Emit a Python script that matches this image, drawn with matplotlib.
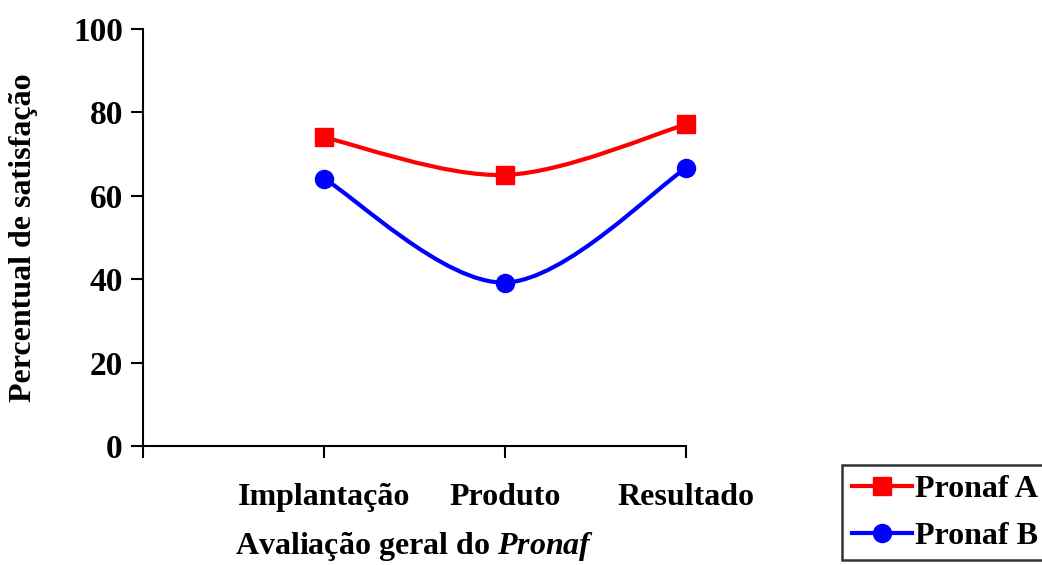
import matplotlib.pyplot as plt
import numpy as np
from matplotlib.path import Path
from matplotlib.patches import PathPatch
from matplotlib.lines import Line2D

plt.rcParams['font.family'] = ['Liberation Serif', 'DejaVu Serif']
plt.rcParams['font.weight'] = 'bold'
plt.rcParams['mathtext.fontset'] = 'custom'
plt.rcParams['mathtext.bfit'] = 'Liberation Serif:bold:italic'
plt.rcParams['mathtext.rm'] = 'Liberation Serif:bold'

categorias = ['Implantação', 'Produto', 'Resultado']
pronaf_a = [74.0, 65.0, 77.1]
pronaf_b = [64.1, 39.2, 66.6]
y_ticks = [0, 20, 40, 60, 80, 100]

FS = 23


def smooth_path(xs, ys):
    # curva suavizada estilo Excel (bezier com tangentes de Catmull-Rom)
    pts = np.column_stack([xs, ys])
    n = len(pts)
    verts = [pts[0]]
    codes = [Path.MOVETO]
    for i in range(n - 1):
        p0 = pts[i - 1] if i > 0 else pts[i]
        p1 = pts[i]
        p2 = pts[i + 1]
        p3 = pts[i + 2] if i + 2 < n else pts[i + 1]
        c1 = p1 + (p2 - p0) / 6.0
        c2 = p2 - (p3 - p1) / 6.0
        verts += [c1, c2, p2]
        codes += [Path.CURVE4] * 3
    return Path(verts, codes)


fig = plt.figure(figsize=(10.42, 5.65), dpi=100)
ax = fig.add_axes([143 / 1042, 1 - 446 / 565, 543 / 1042, 417 / 565])

x = np.arange(1, len(categorias) + 1)
for vals, cor, mk in [(pronaf_a, '#ff0000', 's'), (pronaf_b, '#0000ff', 'o')]:
    ax.add_patch(PathPatch(smooth_path(x, vals), facecolor='none',
                           edgecolor=cor, lw=3, zorder=2, clip_on=False))
    ax.plot(x, vals, ls='none', marker=mk, ms=13, color=cor, zorder=3,
            clip_on=False)

ax.set_xlim(0, 3)
ax.set_ylim(0, 100)
ax.set_yticks(y_ticks)
ax.set_xticks([0, 1, 2, 3])
ax.set_xticklabels([''] + categorias)
ax.tick_params(axis='both', labelsize=FS, width=1.5, length=8.5, direction='out')
ax.tick_params(axis='x', pad=18)
ax.tick_params(axis='y', pad=6, labelsize=24)
for lbl in ax.get_xticklabels() + ax.get_yticklabels():
    lbl.set_fontweight('bold')
ax.spines['top'].set_visible(False)
ax.spines['right'].set_visible(False)
ax.spines['left'].set_linewidth(1.5)
ax.spines['bottom'].set_linewidth(1.5)

ax.set_ylabel('Percentual de satisfação', fontsize=FS, fontweight='bold', labelpad=25)
ax.set_xlabel(r'Avaliação geral do $\mathbfit{Pronaf}$', fontsize=FS,
              fontweight='bold', labelpad=13)

handles = [Line2D([], [], color='#ff0000', lw=3, marker='s', ms=13),
           Line2D([], [], color='#0000ff', lw=3, marker='o', ms=13)]
leg = fig.legend(handles, ['Pronaf A', 'Pronaf B'], loc='upper left',
                 bbox_to_anchor=(842 / 1042, 1 - 465 / 565),
                 prop={'family': 'Liberation Serif', 'weight': 'bold', 'size': FS},
                 frameon=True, fancybox=False, edgecolor='black',
                 handlelength=1.9, handletextpad=0.1, borderpad=0.3,
                 labelspacing=0.55, borderaxespad=0)
leg.get_frame().set_linewidth(1.8)

fig.savefig('out.png', dpi=100)
